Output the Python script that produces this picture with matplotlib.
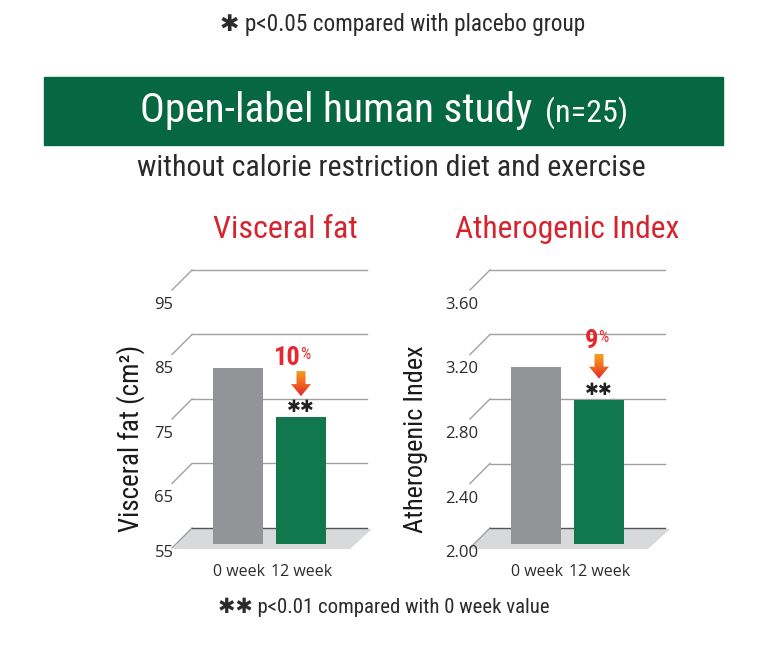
import numpy as np
import matplotlib
matplotlib.use('Agg')
import matplotlib.pyplot as plt
from matplotlib.patches import Polygon, Rectangle
from matplotlib.colors import LinearSegmentedColormap

# ---------------- data ----------------
categories = ['0 week', '12 week']
visceral_values = [82.9, 75.3]
athero_values = [3.12, 2.92]
visceral_ticks = [55, 65, 75, 85, 95]
visceral_tick_labels = ['55', '65', '75', '85', '95']
athero_ticks = [2.00, 2.40, 2.80, 3.20, 3.60]
athero_tick_labels = ['2.00', '2.40', '2.80', '3.20', '3.60']
reduction_labels = ['10', '9']
panel_titles = ['Visceral fat', 'Atherogenic Index']
panel_ylabels = ['Visceral fat (cm²)', 'Atherogenic Index']

W, H = 777, 655
fig = plt.figure(figsize=(W / 100, H / 100), dpi=100)

NARROW = ['Roboto Condensed', 'Open Sans Condensed', 'Noto Sans Condensed', 'Lato', 'DejaVu Sans']
REG = ['Open Sans', 'DejaVu Sans']

GRAY = '#939498'
GREEN = '#10784c'
BANNER = '#066842'
RED = '#d6232e'
TXT = '#2b2b2b'
GRID = '#a0a0a0'

arrow_cmap = LinearSegmentedColormap.from_list('arr', ['#f6a01c', '#ef6a21', '#e3262b'])

renderer = fig.canvas.get_renderer()


def fx(px):
    return px / W


def fy(py):
    return 1 - py / H


def fit(t, target, vertical=False):
    for _ in range(3):
        bb = t.get_window_extent(renderer)
        cur = bb.height if vertical else bb.width
        t.set_fontsize(t.get_fontsize() * target / cur)
    return t


def panel(bar0_px, base, ppu, values, ticks, labels, red_txt):
    spacing = 63.0
    left_px, right_px, top_px, bot_px = bar0_px - 110, bar0_px + 150, 240, 592
    ax = fig.add_axes([fx(left_px), fy(bot_px), (right_px - left_px) / W, (bot_px - top_px) / H])
    X = lambda p: p / spacing
    Y = lambda p: p / ppu
    # floor
    ax.add_patch(Polygon([(X(-65), base + Y(-1)), (X(112), base + Y(-1)),
                          (X(134), base + Y(19)), (X(-48), base + Y(19))],
                         closed=True, fc='#d8d9da', ec='none', zorder=1))
    # pseudo-3D gridlines
    for i, t in enumerate(ticks):
        ax.plot([X(-66), X(-46)], [t, t + Y(20)], color=GRID, lw=1, zorder=2)
        ax.plot([X(-46), X(129)], [t + Y(20), t + Y(20)],
                color='#555555' if i == 0 else GRID, lw=1, zorder=2)
        off = 5 if i == 0 else 15
        ax.text(X(-74), t - Y(off), labels[i], ha='center', va='center',
                fontsize=12, color=TXT, family=REG)
    # bars
    bottom = base + Y(4)
    xs = np.arange(len(values))
    ax.bar(xs, np.array(values) - bottom, bottom=bottom, width=50 / spacing,
           color=[GRAY, GREEN], zorder=3)
    for x, c in zip(xs, categories):
        ax.text(x + X(1), base - Y(24), c, ha='center', va='center', fontsize=11.5,
                color=TXT, family=REG)
    # significance + arrow + reduction
    v = values[1]
    ax.text(1, v + Y(10), '✱✱', ha='center', va='center', fontsize=12,
            color='#222222', family=['DejaVu Sans'], zorder=5)
    tip, top = v + Y(21), v + Y(46)
    neck = v + Y(33)
    poly = Polygon([(1 - X(4.5), top), (1 + X(4.5), top), (1 + X(4.5), neck),
                    (1 + X(10), neck), (1, tip), (1 - X(10), neck), (1 - X(4.5), neck)],
                   closed=True, fc='none', ec='none')
    ax.add_patch(poly)
    grad = np.linspace(0, 1, 100).reshape(-1, 1)
    im = ax.imshow(grad, extent=[1 - X(10), 1 + X(10), tip, top], cmap=arrow_cmap,
                   aspect='auto', zorder=4, origin='upper')
    im.set_clip_path(poly)
    ax.text(1 - X(0.5), v + Y(52), red_txt, ha='right', va='baseline', fontsize=19,
            fontweight='bold', color='#e8262c', family=NARROW)
    ax.text(1 - X(0.5), v + Y(58), '%', ha='left', va='baseline', fontsize=11.5,
            color='#e8262c', family=NARROW)
    ax.set_xlim((left_px - bar0_px) / spacing, (right_px - bar0_px) / spacing)
    ax.set_ylim(base + (548 - bot_px) / ppu, base + (548 - top_px) / ppu)
    ax.axis('off')
    return ax


panel(238, visceral_ticks[0], 6.45, visceral_values, visceral_ticks,
      visceral_tick_labels, reduction_labels[0])
panel(536, athero_ticks[0], 161.25, athero_values, athero_ticks,
      athero_tick_labels, reduction_labels[1])

# ---------------- texts ----------------
t = fig.text(fx(403), fy(25), '✱ p<0.05 compared with placebo group', ha='center', va='center',
             fontsize=15, color=TXT, family=NARROW)
fit(t, 367)

fig.add_artist(Rectangle((fx(44), fy(145)), (723 - 44) / W, (145 - 77) / H,
                         transform=fig.transFigure, color=BANNER, zorder=0))
t1 = fig.text(fx(140), fy(111), 'Open-label human study', ha='left', va='center',
              fontsize=29, color='white', family=NARROW)
fit(t1, 393)
t2 = fig.text(fx(545), fy(113), '(n=25)', ha='left', va='center',
              fontsize=19, color='white', family=NARROW)
fit(t2, 83)

t = fig.text(fx(391), fy(168), 'without calorie restriction diet and exercise', ha='center',
             va='center', fontsize=19, color=TXT, family=NARROW)
fit(t, 510)

t = fig.text(fx(285.5), fy(229), panel_titles[0], ha='center', va='center', fontsize=23,
             color=RED, family=NARROW)
fit(t, 145)
t = fig.text(fx(567.5), fy(229), panel_titles[1], ha='center', va='center', fontsize=23,
             color=RED, family=NARROW)
fit(t, 225)

t = fig.text(fx(131), fy(438), panel_ylabels[0], ha='center', va='center', rotation=90,
             fontsize=18, color='#1a1a1a', family=NARROW)
fit(t, 187, vertical=True)
t = fig.text(fx(416), fy(439), panel_ylabels[1], ha='center', va='center', rotation=90,
             fontsize=18, color='#1a1a1a', family=NARROW)
fit(t, 188, vertical=True)

t = fig.text(fx(383.5), fy(607), '✱✱ p<0.01 compared with 0 week value', ha='center',
             va='center', fontsize=13.5, color=TXT, family=NARROW)
fit(t, 331)

fig.savefig('out.png', dpi=100, facecolor='white')
